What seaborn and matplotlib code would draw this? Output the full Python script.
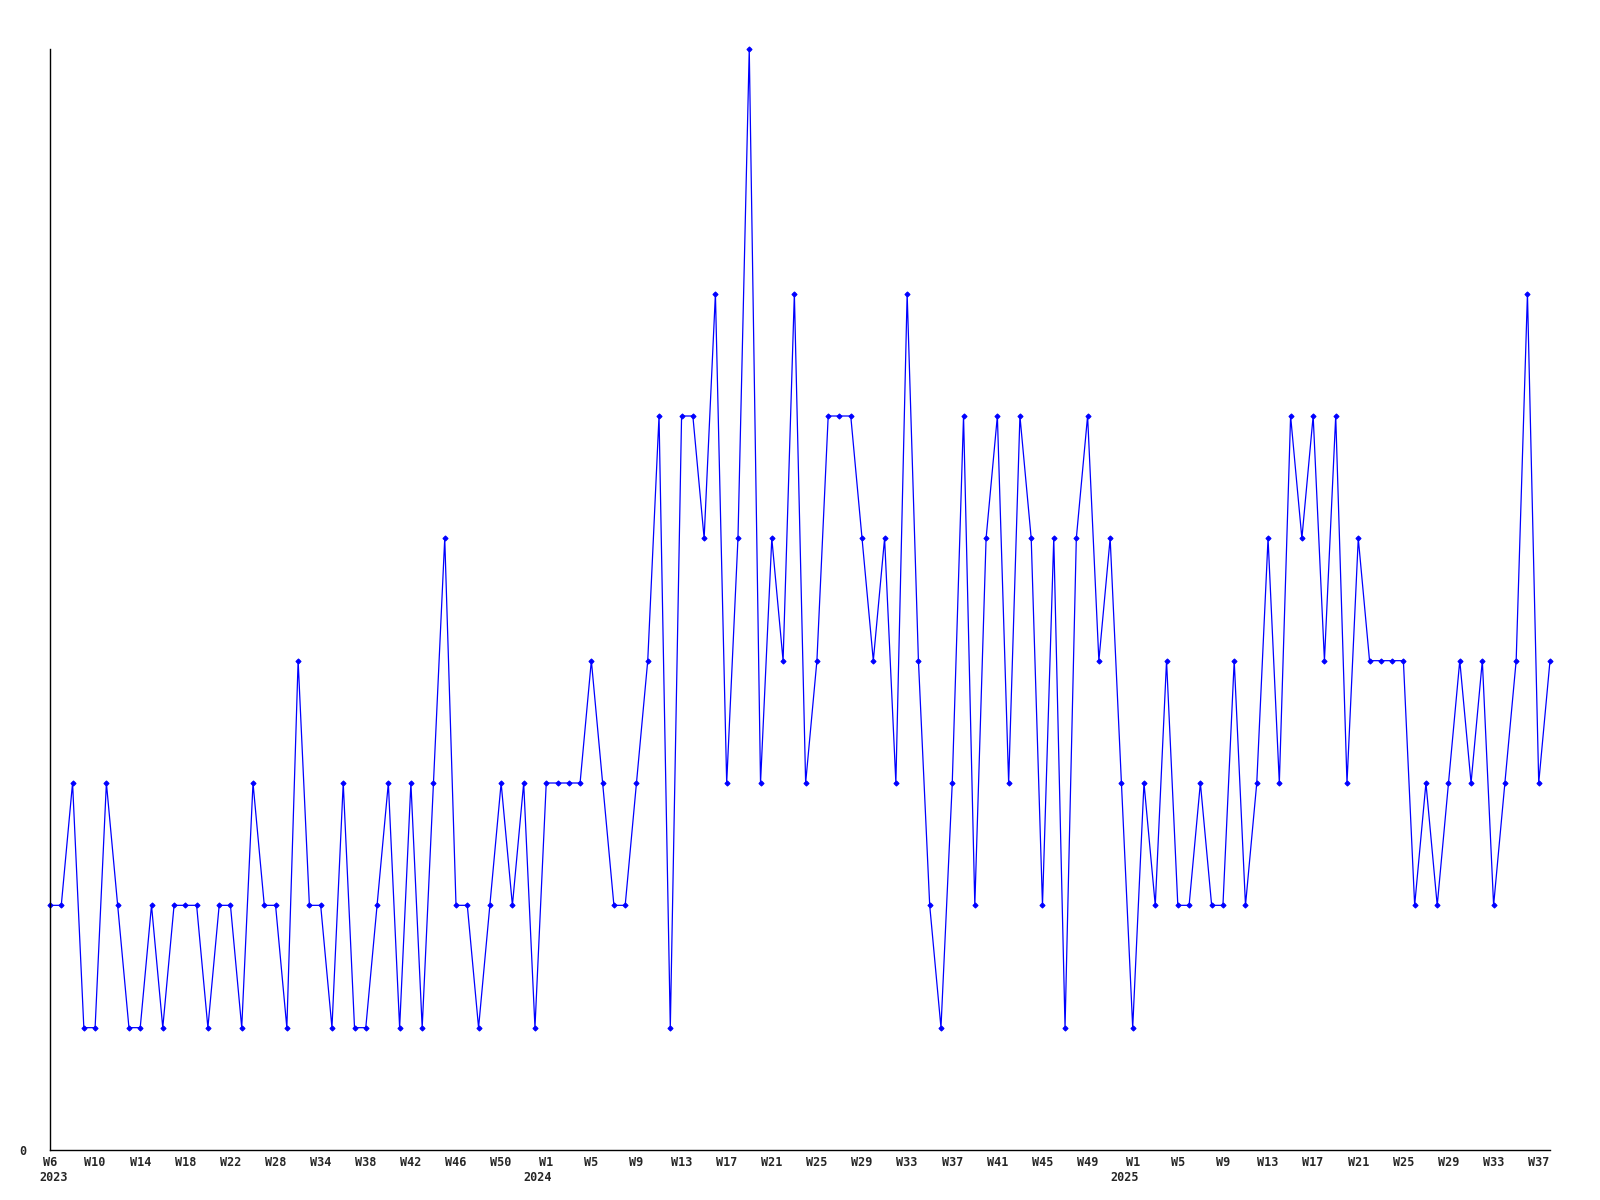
import matplotlib
matplotlib.use("Agg")
import matplotlib.pyplot as plt
import seaborn as sns
import pandas as pd

# weekly counts, one value per point
values = [
    2, 2, 3, 1, 1, 3, 2, 1, 1, 2, 1, 2, 2, 2, 1, 2,
    2, 1, 3, 2, 2, 1, 4, 2, 2, 1, 3, 1, 1, 2, 3, 1,
    3, 1, 3, 5, 2, 2, 1, 2, 3, 2, 3, 1, 3, 3, 3, 3,
    4, 3, 2, 2, 3, 4, 6, 1, 6, 6, 5, 7, 3, 5, 9, 3,
    5, 4, 7, 3, 4, 6, 6, 6, 5, 4, 5, 3, 7, 4, 2, 1,
    3, 6, 2, 5, 6, 3, 6, 5, 2, 5, 1, 5, 6, 4, 5, 3,
    1, 3, 2, 4, 2, 2, 3, 2, 2, 4, 2, 3, 5, 3, 6, 5,
    6, 4, 6, 3, 5, 4, 4, 4, 4, 2, 3, 2, 3, 4, 3, 4,
    2, 3, 4, 7, 3, 4,
]

# labels shown under every 4th point
tick_labels = [
    "W6", "W10", "W14", "W18", "W22", "W28", "W34", "W38", "W42",
    "W46", "W50", "W1", "W5", "W9", "W13", "W17", "W21", "W25",
    "W29", "W33", "W37", "W41", "W45", "W49", "W1", "W5", "W9",
    "W13", "W17", "W21", "W25", "W29", "W33", "W37",
]

# year markers and the point they sit under
years = ["2023", "2024", "2025"]
year_points = [0, 44, 96]

df = pd.DataFrame({"point": range(len(values)), "count": values})

sns.set_style("white")
plt.rcParams["font.family"] = ["DejaVu Sans Mono", "DejaVu Sans"]

fig = plt.figure(figsize=(16, 12), dpi=100)
ax = fig.add_axes([50 / 1600, 1 - 1150 / 1200, 1500 / 1600, (1150 - 49) / 1200])

sns.lineplot(data=df, x="point", y="count", ax=ax, color="#0000ff",
             linewidth=0.9, marker="D", markersize=2.6,
             markeredgecolor="#0000ff", clip_on=False)

ax.set_xlim(0, len(values) - 1)
ax.set_ylim(0, 9)
ax.set_xticks(range(0, len(values), 4))
ax.set_xticklabels(tick_labels, fontsize=8.5, fontweight="bold", ha="center")
ax.set_yticks([0])
ax.set_yticklabels(["0"], fontsize=8.5, fontweight="bold")
ax.tick_params(axis="x", length=0, pad=4)
ax.tick_params(axis="y", length=0, pad=17)

# year line under the week labels
for i, (yr, p) in enumerate(zip(years, year_points)):
    if i == 0:
        ax.annotate(yr, xy=(p, 0), xycoords="data", xytext=(-8, -15),
                    textcoords="offset points", ha="left", va="top",
                    fontsize=8.5, fontweight="bold", annotation_clip=False)
    else:
        ax.annotate(yr, xy=(p, 0), xycoords="data", xytext=(-6, -15),
                    textcoords="offset points", ha="center", va="top",
                    fontsize=8.5, fontweight="bold", annotation_clip=False)

ax.set_xlabel("")
ax.set_ylabel("")
for side in ["top", "right"]:
    ax.spines[side].set_visible(False)
for side in ["left", "bottom"]:
    ax.spines[side].set_color("black")
    ax.spines[side].set_linewidth(1.0)
ax.grid(False)

fig.savefig("out.png", dpi=100)
